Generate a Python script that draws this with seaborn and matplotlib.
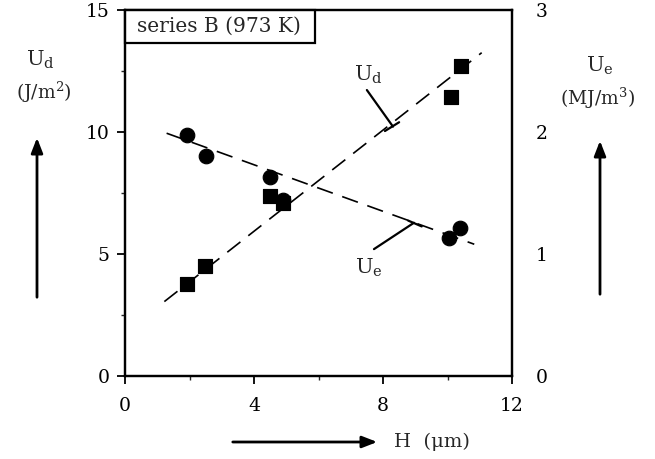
import matplotlib
matplotlib.use("Agg")
import matplotlib.pyplot as plt
import seaborn as sns
import pandas as pd
from matplotlib.ticker import MultipleLocator
from matplotlib.patches import Rectangle

# ---- data ----
h_ud = [1.91, 2.49, 4.50, 4.91, 10.10, 10.41]
ud = [3.77, 4.51, 7.39, 7.08, 11.45, 12.70]
h_ue = [1.93, 2.51, 4.50, 4.91, 10.06, 10.39]
ue = [1.975, 1.80, 1.63, 1.44, 1.13, 1.21]
ud_fit_x = [1.22, 11.06]
ud_fit_y = [3.05, 13.25]
ue_fit_x = [1.29, 10.83]
ue_fit_y = [1.99, 1.08]
x_ticks = [0, 4, 8, 12]
left_ticks = [0, 5, 10, 15]
right_ticks = [0, 1, 2, 3]
title_text = "series B (973 K)"

sns.set_style("white")
plt.rcParams['font.family'] = ['DejaVu Serif']
plt.rcParams['mathtext.fontset'] = 'dejavuserif'

fig = plt.figure(figsize=(6.55, 4.59), dpi=100)
ax = fig.add_axes([125/655, 1-376/459, (512-125)/655, (376-10)/459])
ax2 = ax.twinx()

df_ud = pd.DataFrame({"H": h_ud, "U": ud})
df_ue = pd.DataFrame({"H": h_ue, "U": ue})
df_udf = pd.DataFrame({"H": ud_fit_x, "U": ud_fit_y})
df_uef = pd.DataFrame({"H": ue_fit_x, "U": ue_fit_y})

sns.lineplot(data=df_udf, x="H", y="U", ax=ax, color="black", lw=1.2,
             dashes=False, linestyle=(0, (10, 6)))
sns.scatterplot(data=df_ud, x="H", y="U", ax=ax, marker="s", s=110,
                color="black", edgecolor="black", zorder=5)
sns.lineplot(data=df_uef, x="H", y="U", ax=ax2, color="black", lw=1.2,
             dashes=False, linestyle=(0, (10, 6)))
sns.scatterplot(data=df_ue, x="H", y="U", ax=ax2, marker="o", s=110,
                color="black", edgecolor="black", zorder=4)

ax.set_xlim(0, 12)
ax.set_ylim(0, 15)
ax2.set_ylim(0, 3)
ax.set_xticks(x_ticks)
ax.set_yticks(left_ticks)
ax2.set_yticks(right_ticks)
ax.xaxis.set_minor_locator(MultipleLocator(2))
ax.yaxis.set_minor_locator(MultipleLocator(2.5))
for a in (ax, ax2):
    a.set_xlabel("")
    a.set_ylabel("")
    for s in a.spines.values():
        s.set_linewidth(1.6)
        s.set_color("black")
ax.tick_params(axis="both", which="major", direction="out", length=6, width=1.3,
               labelsize=13.5, colors="black", pad=5, bottom=True, left=True)
ax.tick_params(axis="both", which="minor", direction="out", length=3, width=1.0,
               bottom=True, left=True)
ax.tick_params(axis="x", pad=9)
ax2.tick_params(axis="y", length=0, labelsize=13.5, pad=17, colors="black")

# title box attached to top-left corner
box_w = (315 - 125) / 387
box_h = (43 - 10) / 366
ax.add_patch(Rectangle((0, 1 - box_h), box_w, box_h, transform=ax.transAxes,
                       fc="white", ec="black", lw=1.6, zorder=6, clip_on=False))
ax.text((137 - 125) / 387, 1 - box_h / 2, title_text, transform=ax.transAxes,
        fontsize=14.5, ha="left", va="center", zorder=7)

# in-plot labels with leader lines
ax.text(7.55, 12.35, r"U$_\mathrm{d}$", fontsize=15, ha="center", va="center")
ax.plot([7.50, 8.31], [11.72, 10.22], color="black", lw=1.6)
ax.plot([8.06, 8.50], [10.04, 10.40], color="black", lw=1.6)
ax.text(7.55, 4.45, r"U$_\mathrm{e}$", fontsize=15, ha="center", va="center")
ax.plot([7.72, 8.96], [5.20, 6.28], color="black", lw=1.6)
ax.plot([8.78, 9.20], [6.37, 6.13], color="black", lw=1.6)

# outer axis labels
fig.text(40/655, 1-60/459, r"U$_\mathrm{d}$", fontsize=15, ha="center", va="center")
fig.text(44/655, 1-92/459, r"(J/m$^2$)", fontsize=13.5, ha="center", va="center")
fig.text(600/655, 1-66/459, r"U$_\mathrm{e}$", fontsize=15, ha="center", va="center")
fig.text(598/655, 1-98/459, r"(MJ/m$^3$)", fontsize=13.5, ha="center", va="center")
fig.text(432/655, 1-442/459, "H  (μm)", fontsize=14, ha="center", va="center")

arrow = dict(arrowstyle="-|>,head_length=0.9,head_width=0.35", color="black", lw=2)
ax.annotate("", xy=(37/655, 1-135/459), xytext=(37/655, 1-300/459),
            xycoords="figure fraction", textcoords="figure fraction",
            arrowprops=arrow, annotation_clip=False)
ax.annotate("", xy=(600/655, 1-138/459), xytext=(600/655, 1-297/459),
            xycoords="figure fraction", textcoords="figure fraction",
            arrowprops=arrow, annotation_clip=False)
ax.annotate("", xy=(380/655, 1-442/459), xytext=(230/655, 1-442/459),
            xycoords="figure fraction", textcoords="figure fraction",
            arrowprops=arrow, annotation_clip=False)

fig.savefig("out.png", dpi=100)
